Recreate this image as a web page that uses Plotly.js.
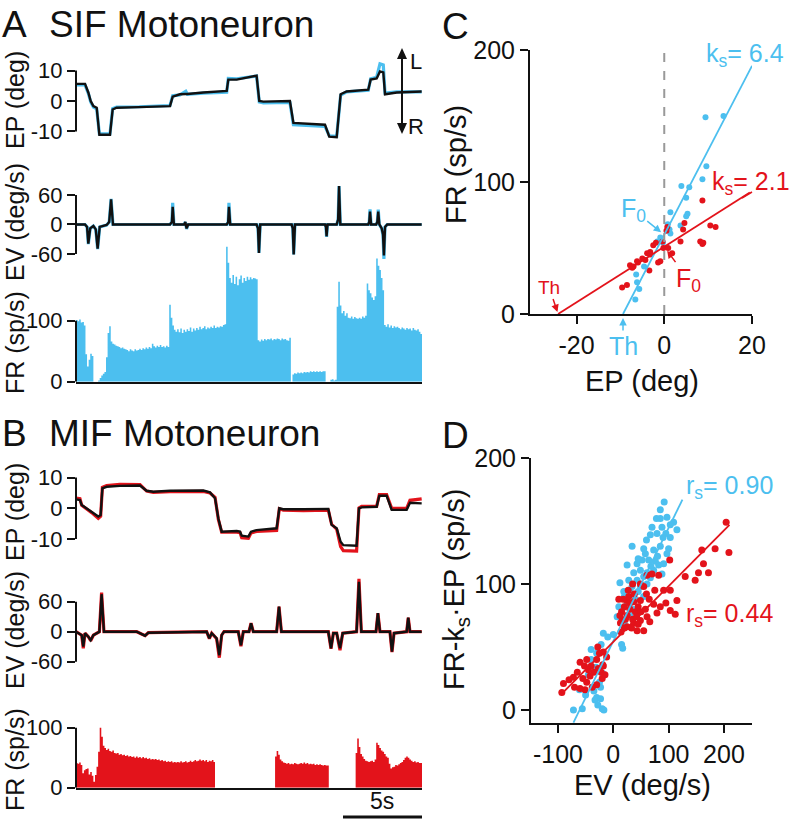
<!DOCTYPE html>
<html>
<head>
<meta charset="utf-8">
<script src="https://cdn.plot.ly/plotly-3.0.1.min.js"></script>
<style>
  html, body { margin: 0; padding: 0; background: #fff; }
  #fig { width: 796px; height: 819px; }
</style>
</head>
<body>
<div id="fig"></div>
<script>
// --- values ---
const DT = 0.1; // FR bin width (s)
const T_END = 21.9;

// A: SIF motoneuron, eye position (deg)
const epA_t = [0,0.57,0.78,0.93,1.10,1.31,1.48,2.15,2.32,2.57,4.0,5.95,6.12,6.58,6.95,7.0,7.05,8.06,9.54,9.64,10.17,11.43,11.60,11.86,13.54,13.76,15.76,16.03,16.50,16.75,17.13,18.50,18.65,19.03,19.24,19.45,19.56,20.30,21.88];
const epA_eye = [5.6,5.6,2.8,0,-1.7,-2.2,-11.1,-11.1,-2.8,-2.2,-2.0,-1.7,1.4,2.2,2.3,2.4,2.3,2.8,3.3,7.0,7.0,8.3,0,-0.2,0,-7.2,-7.8,-11.7,-11.9,2.2,3.1,3.7,7.0,7.4,9.7,9.4,2.2,2.8,3.1];
const epA_fit = [5.3,5.3,2.5,-0.3,-2.0,-2.6,-10.8,-10.8,-2.5,-2.0,-1.9,-1.5,1.7,2.0,3.2,2.5,2.2,2.6,2.9,7.4,7.3,8.2,-0.3,-0.6,-0.5,-7.8,-8.3,-11.4,-11.6,1.9,3.0,3.5,7.3,7.8,12.2,11.8,2.6,3.0,3.0];

// A: eye velocity (deg/s)
const evA_t = [0,0.57,0.70,0.78,0.90,1.10,1.25,1.37,1.50,1.94,2.10,2.22,2.34,5.95,6.07,6.12,6.20,6.85,6.92,7.0,7.1,9.54,9.63,9.68,9.76,11.43,11.52,11.58,11.66,13.65,13.72,13.78,13.86,15.76,15.82,15.86,15.92,16.50,16.59,16.65,16.73,18.50,18.56,18.61,18.68,19.0,19.07,19.13,19.2,19.35,19.43,19.49,19.56,19.7,21.88];
const evA_eye = [0,0,-5,-39,-8,-3,-10,-49,-5,-1,5,51,0,0,5,36,0,0,5,-8,0,0,5,36,0,0,-8,-58,0,0,-8,-61,0,0,-5,-24,0,0,10,78,0,0,5,26,0,0,5,26,0,-8,-20,-63,-5,0,0];
const evA_fit = [0,0,-5,-40,-8,-3,-10,-50,-5,-1,5,52,0,0,5,44,0,0,5,-9,0,0,5,44,0,0,-8,-58,0,0,-8,-61,0,0,-5,-25,0,0,10,78,0,0,5,31,0,0,5,30,0,-8,-22,-70,-5,0,0];

// A: firing rate (sp/s), 0.1 s bins
const frA = [101,99,102,97,98,92,45,25,36,46,42,0,0,0,2,6,10,13,16,40,
  80,91,66,62,61,59,58,57,55,56,54,53,52,50,53,51,50,53,51,52,
  54,52,55,53,56,54,57,55,62,58,56,59,57,60,57,58,56,59,57,126,
  105,92,85,82,86,81,87,80,85,82,86,83,89,82,87,84,88,85,90,86,
  88,91,86,89,87,90,88,92,88,90,89,91,90,93,94,221,195,170,162,175,
  160,172,158,168,174,162,170,165,172,167,171,168,170,169,168,68,66,69,67,70,
  68,70,69,71,68,70,69,71,70,68,71,69,70,68,67,72,0,12,14,13,
  15,14,15,14,16,15,16,15,17,16,17,16,17,16,17,16,17,17,0,0,
  0,3,4,2,3,123,164,125,112,116,108,112,105,104,107,103,106,104,103,105,
  103,107,105,108,161,150,145,138,134,140,202,190,183,170,150,93,90,94,89,92,
  88,91,89,90,88,86,89,87,85,88,86,87,84,88,85,84,86,82,78];

// B: MIF motoneuron, eye position (deg)
const epB_t = [0,0.25,0.36,0.68,0.99,1.41,1.56,1.67,1.94,2.78,4.05,4.47,4.89,5.95,8.06,8.48,8.8,9.01,9.22,10.17,10.38,10.49,10.91,11.08,11.43,12.7,12.87,13.12,14.39,15.97,16.18,16.5,16.75,16.92,17.76,17.91,18.08,19.03,19.2,19.66,19.98,20.93,21.14,21.88];
const epB_eye = [2.9,2.7,1.1,0,-1.1,-2.7,-2.2,6.5,7.0,7.3,7.4,5.7,5.4,5.7,5.8,5.2,3.3,-3.3,-7.6,-7.4,-7.6,-8.9,-9.2,-7.6,-7.1,-6.5,0,-0.3,-0.3,-0.2,-5.4,-6.5,-10.9,-12,-12.2,0,0.3,0.5,4.1,4.1,-0.5,-0.5,1.8,1.6];
const epB_fit = [3.3,3.1,1.0,-0.2,-1.4,-3.3,-2.6,6.8,7.4,7.8,7.7,5.6,5.2,5.4,5.5,5.0,3.6,-3.6,-7.8,-7.8,-7.9,-9.6,-9.8,-8.0,-7.5,-7.2,-0.1,-0.6,-0.8,-0.6,-5.2,-6.8,-12.5,-13.8,-13.9,0.1,0.6,0.6,4.5,4.5,0.0,0.0,2.6,3.1];

// B: eye velocity (deg/s)
const evB_t = [0,0.36,0.46,0.57,0.78,0.93,1.1,1.31,1.48,1.62,1.77,3.84,4.16,4.37,4.58,8.27,8.44,8.59,8.9,9.07,9.22,9.37,10.27,10.44,10.59,10.95,11.08,11.22,12.7,12.85,13.0,15.97,16.14,16.29,16.5,16.71,16.88,17.76,17.91,18.06,18.99,19.11,19.24,19.87,20.0,20.13,20.93,21.03,21.14,21.88];
const evB_eye = [0,-7,-30,-3,-10,-17,-7,-3,0,75,0,0,-5,-8,-2,0,-13,-3,-13,-47,-7,0,0,-27,0,0,17,0,0,50,0,0,-33,-3,-3,-33,-3,0,100,0,0,37,0,0,-40,-3,0,28,0,0];
const evB_fit = [0,-7,-33,-3,-10,-18,-7,-3,0,78,0,0,-5,-8,-2,0,-14,-3,-14,-52,-7,0,0,-29,0,0,17,0,0,50,0,0,-34,-3,-3,-37,-3,0,106,0,0,37,0,0,-41,-3,0,28,0,0];

// B: firing rate (sp/s), 0.1 s bins
const frB = [41,40,42,38,24,29,31,32,22,26,20,10,21,35,60,100,85,70,66,63,
  65,61,60,62,58,57,58,55,56,54,55,53,54,52,53,51,52,50,52,50,
  51,49,51,49,50,48,49,47,48,47,48,46,47,45,46,44,45,43,44,43,
  44,42,43,42,43,42,44,42,43,44,42,43,45,43,44,46,44,45,47,45,
  46,44,46,43,45,44,46,43,0,0,0,0,0,0,0,0,0,0,0,0,
  0,0,0,0,0,0,0,0,0,0,0,0,0,0,0,0,0,0,0,0,
  0,0,0,0,0,0,52,61,55,47,44,42,41,40,41,39,40,39,41,40,
  39,40,41,40,42,40,41,39,40,39,40,38,39,38,39,38,37,38,37,37,
  0,0,0,0,0,0,0,0,0,0,0,0,0,0,0,0,0,58,82,68,
  56,52,48,45,44,43,44,45,43,47,75,71,66,62,60,56,52,50,40,32,
  34,35,38,37,39,41,43,46,50,52,50,47,45,43,44,42,43,41,41];

// C: FR vs EP, static points [EP, FR]
const cSIF = [[9.4,149],[13.5,150],[9.6,112],[8.7,102],[3.9,97],[5.7,96],[5.0,88],[1.4,77],[3.7,67],[5.3,76],[5.0,74],[1.4,61],[1.2,64],[-0.9,58],[-1.6,55],[-4.6,36],[-6.4,30],[-5.7,19],[-6.6,11],[-6.2,24],[-0.3,54],[0.8,68]];
const cMIF = [[8.7,86],[10.5,67],[11.7,66],[4.6,69],[4.3,64],[0.7,66],[0.5,63],[3.7,55],[8.2,55],[8.7,53],[8.9,54],[-2.5,52],[-0.2,50],[0.9,50],[1.8,46],[-3.2,47],[-3.9,46],[-3.2,45],[-5.0,42],[-4.3,41],[-6.2,40],[-6.0,39],[-7.8,37],[-7.3,35],[-7.0,36],[-3.4,33],[-0.9,40],[-1.4,39],[-9.6,20],[-8.5,22],[-1.9,54],[-0.4,55]];
const cFitSIF_x = [-9.4, 20], cFitSIF_y = [0, 188];
const cFitMIF_x = [-24.2, 19.5], cFitMIF_y = [0, 92];
const TH_SIF = -9.4, TH_MIF = -24.2, F0_SIF = 60, F0_MIF = 51;

// D: FR - ks*EP vs EV [EV, value]
const dSIF = [[92,165],[85,159],[78,152],[85,152],[97,153],[109,149],[103,147],[115,143],[67,139],[79,140],[90,137],[103,137],[34,130],[58,124],[73,127],[85,130],[97,124],[25,115],[43,116],[52,119],[64,119],[76,118],[82,115],[91,116],[37,109],[49,111],[61,109],[73,111],[28,103],[43,103],[55,106],[67,105],[12,101],[34,98],[49,98],[61,100],[19,94],[37,91],[25,85],[16,80],[7,74],[-18,61],[15,52],[17,49],[-30,45],[-31,34],[-19,29],[-61,16],[-30,10],[-33,8],[-23,9],[-72,0],[-56,1],[-20,1],[-17,0],[-23,18],[60,135],[70,145],[88,145],[95,140],[55,128],[80,122],[100,128],[45,120],[68,114],[88,108],[30,95],[40,88],[20,90],[10,82],[45,94],[55,90],[-40,40],[-45,28],[-25,22],[-35,15],[-50,12],[-28,4],[-40,48],[-22,52],[0,60],[20,70],[30,75],[35,80],[-10,58]];
const dMIF = [[204,149],[184,128],[209,125],[160,127],[163,116],[172,109],[154,109],[148,103],[130,106],[102,119],[82,107],[91,95],[103,95],[115,87],[49,100],[55,98],[61,107],[70,108],[25,87],[37,86],[49,87],[73,84],[85,82],[103,79],[112,76],[79,77],[61,74],[49,71],[37,69],[25,66],[13,69],[16,71],[55,63],[43,63],[-18,46],[-12,42],[-48,40],[-60,38],[-27,33],[-19,36],[-72,26],[-90,21],[-93,14],[-51,16],[-60,17],[-42,27],[-18,35],[15,78],[20,82],[25,75],[30,80],[35,72],[40,78],[45,82],[28,90],[18,88],[22,72],[33,65],[38,92],[12,75],[50,78],[58,80],[65,88],[30,85],[20,65],[42,74],[27,95],[35,100],[60,92],[75,95],[10,88],[45,68],[14,62],[66,70],[95,85],[-30,40],[-35,30],[-40,35],[-25,45],[-20,25],[-45,32],[-55,25],[-65,30],[-30,20],[-38,18],[-48,22],[-22,30],[-15,28],[-70,18],[-80,24],[-52,35],[-28,50]];
const dFitSIF_x = [-72, 125], dFitSIF_y = [-10, 167];
const dFitMIF_x = [-92, 210], dFitMIF_y = [13.5, 147];

// --- styling ---
const FONT = 'Liberation Sans, Arial, Helvetica, sans-serif';
const BLUE = '#4cbfef';
const RED = '#e3131b';
const INK = '#111';
const W = 796, H = 819;
const px = v => v / W;       // pixel column -> paper x
const py = v => 1 - v / H;   // pixel row -> paper y

function binTimes(arr){ const t = arr.map((_, i) => i * DT); t.push(T_END); return t }
function withEnd(arr){ return arr.concat([arr[arr.length - 1]]) }

function trace(x, y, xa, ya, color, width){
  return { x, y, xaxis: xa, yaxis: ya, type: 'scatter', mode: 'lines', line: { color, width }, hoverinfo: 'skip' }
}
function rate(vals, xa, ya, color){
  return { x: binTimes(vals), y: withEnd(vals), xaxis: xa, yaxis: ya, type: 'scatter', mode: 'lines',
    line: { width: 0, shape: 'hv', color }, fill: 'tozeroy', fillcolor: color, hoverinfo: 'skip' }
}
function dots(pts, xa, ya, color, size){
  return { x: pts.map(p => p[0]), y: pts.map(p => p[1]), xaxis: xa, yaxis: ya, type: 'scatter', mode: 'markers',
    marker: { color, size }, hoverinfo: 'skip' }
}

const traces = [
  trace(epA_t, epA_fit, 'x', 'y', BLUE, 3.2),
  trace(epA_t, epA_eye, 'x', 'y', INK, 2.4),
  trace(evA_t, evA_fit, 'x', 'y2', BLUE, 3.2),
  trace(evA_t, evA_eye, 'x', 'y2', INK, 2.4),
  rate(frA, 'x', 'y3', BLUE),
  trace(epB_t, epB_fit, 'x2', 'y4', RED, 3.2),
  trace(epB_t, epB_eye, 'x2', 'y4', INK, 2.4),
  trace(evB_t, evB_fit, 'x2', 'y5', RED, 3.2),
  trace(evB_t, evB_eye, 'x2', 'y5', INK, 2.4),
  rate(frB, 'x2', 'y6', RED),
  dots(cSIF, 'x3', 'y7', BLUE, 6),
  dots(cMIF, 'x3', 'y7', RED, 6),
  trace(cFitSIF_x, cFitSIF_y, 'x3', 'y7', BLUE, 1.8),
  trace(cFitMIF_x, cFitMIF_y, 'x3', 'y7', RED, 1.8),
  dots(dSIF, 'x4', 'y8', BLUE, 7),
  dots(dMIF, 'x4', 'y8', RED, 7),
  trace(dFitSIF_x, dFitSIF_y, 'x4', 'y8', BLUE, 1.8),
  trace(dFitMIF_x, dFitMIF_y, 'x4', 'y8', RED, 1.8)
];

// axes
const tAx = (lo, hi, anchor) => ({ domain: [px(lo), px(hi)], range: [0, T_END], anchor, showline: true, linewidth: 2,
  linecolor: INK, ticks: '', showticklabels: false, showgrid: false, zeroline: false, fixedrange: true });
const sideAx = (top, bottom, range, vals, anchor) => ({ domain: [py(bottom), py(top)], range, anchor,
  showline: false, showgrid: false, zeroline: false, ticks: 'outside', ticklen: 8, tickwidth: 2, tickcolor: INK,
  tickvals: vals, ticktext: vals.map(String), tickfont: { size: 22, color: INK, family: FONT } });
const sqAx = (lo, hi, range, vals, anchor, horiz) => ({ domain: horiz ? [px(lo), px(hi)] : [py(hi), py(lo)], range, anchor,
  showline: true, linewidth: 2, linecolor: INK, showgrid: false, zeroline: false, ticks: 'outside', ticklen: 8,
  tickwidth: 2, tickcolor: INK, tickvals: vals, ticktext: vals.map(String), tickfont: { size: 25, color: INK, family: FONT } });

const EP_T = [-10, 0, 10], EV_T = [-60, 0, 60], FR_T = [0, 100];

const layout = {
  width: W, height: H, margin: { l: 0, r: 0, t: 0, b: 0 },
  paper_bgcolor: '#fff', plot_bgcolor: 'rgba(0,0,0,0)', showlegend: false,
  font: { family: FONT, color: INK },
  xaxis: tAx(76, 422, 'y3'),
  yaxis: sideAx(58, 140, [-12.8, 14.1], EP_T, 'x'),
  yaxis2: sideAx(183, 262, [-76.3, 84.4], EV_T, 'x'),
  yaxis3: sideAx(244, 381.7, [0, 225.7], FR_T, 'x'),
  xaxis2: tAx(76, 422, 'y6'),
  yaxis4: sideAx(465, 555, [-15.2, 14.1], EP_T, 'x2'),
  yaxis5: sideAx(574, 668, [-72.6, 115.4], EV_T, 'x2'),
  yaxis6: sideAx(722, 787.7, [0, 109.5], FR_T, 'x2'),
  xaxis3: sqAx(530, 752, [-30.6, 20], [-20, 0, 20], 'y7', true),
  yaxis7: sqAx(50, 314, [0, 200], [0, 100, 200], 'x3', false),
  xaxis4: sqAx(531, 752, [-148.7, 250.7], [-100, 0, 100, 200], 'y8', true),
  yaxis8: sqAx(458, 723, [-10.3, 200], [0, 100, 200], 'x4', false)
};

// y-axis brackets spanning only the labelled ticks
const bracket = (xa, ya, lo, hi) => ({ type: 'line', xref: xa + ' domain', yref: ya, x0: 0, x1: 0, y0: lo, y1: hi,
  line: { color: INK, width: 2 } });
// small filled triangle, tip at (x, yTip), base `dir` px further down (+) or up (-)
const head = (x, yTip, dir) => ({ type: 'path', xref: 'paper', yref: 'paper', fillcolor: INK, line: { width: 0 },
  path: `M ${px(x - 5)} ${py(yTip + dir)} L ${px(x)} ${py(yTip)} L ${px(x + 5)} ${py(yTip + dir)} Z` });
layout.shapes = [
  bracket('x', 'y', -10, 10), bracket('x', 'y2', -60, 60), bracket('x', 'y3', 0, 100),
  bracket('x2', 'y4', -10, 10), bracket('x2', 'y5', -60, 60), bracket('x2', 'y6', 0, 100),
  { type: 'line', xref: 'x3', yref: 'y7', x0: 0, x1: 0, y0: 0, y1: 200, line: { color: '#999', width: 2, dash: 'dash' } },
  // 5 s scale bar
  { type: 'line', xref: 'x2', yref: 'paper', x0: T_END - 5, x1: T_END, y0: py(817), y1: py(817), line: { color: INK, width: 3 } },
  // L / R double arrow
  { type: 'line', xref: 'paper', yref: 'paper', x0: px(402), x1: px(402), y0: py(56), y1: py(126), line: { color: INK, width: 2 } },
  head(402, 48, 11), head(402, 134, -11),
  // leader from ks = 2.1 to the red fit
  { type: 'line', xref: 'paper', yref: 'paper', x0: px(752), y0: py(192), x1: px(742), y1: py(198), line: { color: RED, width: 1.5 } }
];

const txt = (x, y, text, size, color, extra) => Object.assign({ xref: 'paper', yref: 'paper', x: px(x), y: py(y), text,
  showarrow: false, xanchor: 'center', yanchor: 'middle', font: { size, color: color || INK, family: FONT } }, extra || {});
const vlab = (x, y, text, size) => txt(x, y, text, size, INK, { textangle: -90 });
const pointer = (xa, ya, x, y, ax, ay, text, size, color, standoff) => ({ xref: xa, yref: ya, x, y, ax, ay, text,
  showarrow: true, arrowhead: 2, arrowsize: 1, arrowwidth: 1.5, arrowcolor: color, standoff: standoff || 0,
  font: { size, color, family: FONT } });

layout.annotations = [
  txt(0, 24, 'A', 37, INK, { xanchor: 'left' }),
  txt(47, 24, 'SIF Motoneuron', 37, INK, { xanchor: 'left' }),
  txt(0, 433, 'B', 37, INK, { xanchor: 'left' }),
  txt(47, 433, 'MIF Motoneuron', 37, INK, { xanchor: 'left' }),
  txt(440, 26, 'C', 37, INK, { xanchor: 'left' }),
  txt(440, 435, 'D', 37, INK, { xanchor: 'left' }),
  vlab(15, 100, 'EP (deg)', 25), vlab(15, 222, 'EV (deg/s)', 25), vlab(15, 343, 'FR (sp/s)', 25),
  vlab(15, 512, 'EP (deg)', 25), vlab(15, 630, 'EV (deg/s)', 25), vlab(15, 760, 'FR (sp/s)', 25),
  vlab(456, 165, 'FR (sp/s)', 29), vlab(456, 590, 'FR-k<sub>s</sub>·EP (sp/s)', 29),
  txt(642, 381, 'EP (deg)', 29), txt(642, 785, 'EV (deg/s)', 29),
  txt(416, 62, 'L', 22), txt(416, 126, 'R', 22),
  txt(382, 801, '5s', 23),
  // panel C labels
  txt(745, 55, 'k<sub>s</sub>= 6.4', 25, BLUE),
  txt(751, 183, 'k<sub>s</sub>= 2.1', 25, RED),
  pointer('x3', 'y7', TH_MIF, 0, -9, -27, 'Th', 19, RED, 2),
  pointer('x3', 'y7', TH_SIF, 0, 0, 32, 'Th', 25, BLUE, 4),
  pointer('x3', 'y7', 0, F0_SIF, -31, -25, 'F<sub>0</sub>', 25, BLUE, 4),
  pointer('x3', 'y7', 0, F0_MIF, 24, 33, 'F<sub>0</sub>', 25, RED, 5),
  // panel D labels
  txt(729, 487, 'r<sub>s</sub>= 0.90', 25, BLUE),
  txt(729, 615, 'r<sub>s</sub>= 0.44', 25, RED)
];

Plotly.newPlot('fig', traces, layout, { staticPlot: true, displayModeBar: false });
</script>
</body>
</html>
